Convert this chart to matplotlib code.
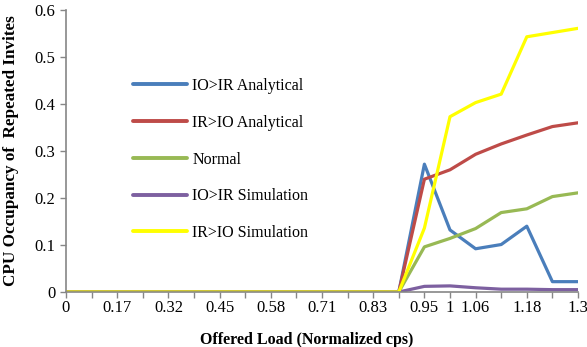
import numpy as np
import matplotlib.pyplot as plt

plt.rcParams['font.family'] = ['Liberation Serif', 'DejaVu Serif']

# offered load categories (only some of them carry a label on the axis)
tick_labels = ["0", "", "0.17", "", "0.32", "", "0.45", "", "0.58", "",
               "0.71", "", "0.83", "", "0.95", "1", "1.06", "", "1.18", "", "1.3"]

zeros = [0.0] * 14
io_ir_analytical = zeros + [0.272, 0.132, 0.092, 0.101, 0.140, 0.022, 0.022]
ir_io_analytical = zeros + [0.240, 0.260, 0.293, 0.315, 0.334, 0.352, 0.360]
normal = zeros + [0.096, 0.114, 0.135, 0.169, 0.177, 0.203, 0.211]
io_ir_simulation = zeros + [0.012, 0.013, 0.009, 0.006, 0.006, 0.005, 0.005]
ir_io_simulation = zeros + [0.136, 0.373, 0.403, 0.421, 0.543, 0.552, 0.561]

series = [
    ("IO>IR Analytical", io_ir_analytical, "#4A7EBB"),
    ("IR>IO Analytical", ir_io_analytical, "#BE4B48"),
    ("Normal", normal, "#98B954"),
    ("IO>IR Simulation", io_ir_simulation, "#7D60A0"),
    ("IR>IO Simulation", ir_io_simulation, "#FFFF00"),
]

fig = plt.figure(figsize=(5.87, 3.47), dpi=100)
ax = fig.add_axes([66 / 587, 55 / 347, 512 / 587, 282 / 347])

x = np.arange(len(tick_labels))
for name, vals, col in series:
    ax.plot(x, vals, color=col, lw=2.3, label=name, solid_capstyle='round')

ax.set_xlim(0, len(tick_labels) - 1)
ax.set_ylim(0, 0.6)
ax.set_xticks(x)
ax.set_xticklabels(tick_labels, fontsize=12)
ax.set_yticks(np.arange(0, 0.61, 0.1))
ax.set_yticklabels(["0", "0.1", "0.2", "0.3", "0.4", "0.5", "0.6"], fontsize=12)

for side in ["top", "right"]:
    ax.spines[side].set_visible(False)
for side in ["left", "bottom"]:
    ax.spines[side].set_color("#868686")
    ax.spines[side].set_linewidth(1.2)
ax.tick_params(axis="both", colors="#868686", labelcolor="black", length=4, width=1)
ax.tick_params(axis="x", pad=2)

ax.set_xlabel("Offered Load (Normalized cps)", fontsize=11.5, fontweight="bold")
ax.xaxis.set_label_coords(241 / 512, -40 / 282)
ax.set_ylabel("CPU Occupancy of  Repeated Invites", fontsize=12.3, fontweight="bold")
ax.yaxis.set_label_coords(-47 / 512, 0.5)

leg = ax.legend(loc="upper left", bbox_to_anchor=(133 / 587, 1 - 78 / 347),
                bbox_transform=fig.transFigure, frameon=False, fontsize=11.5,
                handlelength=3.4, handletextpad=0.3, labelspacing=1.3,
                borderaxespad=0, borderpad=0)
for line in leg.get_lines():
    line.set_linewidth(2.8)

fig.savefig("out.png", dpi=100)
